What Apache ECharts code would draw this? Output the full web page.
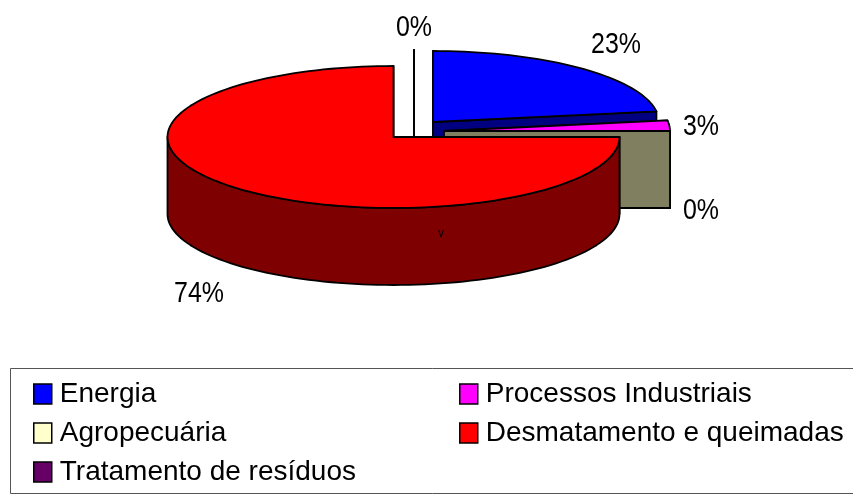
<!DOCTYPE html>
<html>
<head>
<meta charset="utf-8">
<style>html,body{margin:0;padding:0;background:#fff}#chart{width:853px;height:495px}</style>
<script src="https://cdn.jsdelivr.net/npm/echarts@6/dist/echarts.min.js"></script>
</head>
<body>
<div id="chart"></div>
<script>
// shares as swept by each slice in the picture, in drawing order clockwise from 12 o'clock
var categories = ['Energia', 'Processos Industriais', 'Agropecuária', 'Desmatamento e queimadas', 'Tratamento de resíduos'];
var values = [22.6, 2.4, 0, 75, 0];
var labels = ['23%', '3%', '0%', '74%', '0%'];

var topColors = ['#0000ff', '#ff00ff', '#ffffcc', '#ff0000', '#660066'];
var sideColors = ['#000080', '#800080', '#808060', '#7f0000', '#330033'];

// layout of the exploded pie
var rx = 226, ry = 71, depth = 77;
var centers = [[433, 122], [444, 131], [444, 131], [393.5, 137], [414, 121]];
var labelPos = [[616, 45], [701, 127], [701, 211], [199, 294], [414, 28]];
var zOrder = [2, 3, 4, 5, 1];

function rim(c, deg, dy) {
  var a = deg * Math.PI / 180;
  return [c[0] + rx * Math.sin(a), c[1] - ry * Math.cos(a) + (dy || 0)];
}

function sweep(c, from, to, dy) {
  var pts = [];
  var n = Math.max(1, Math.ceil((to - from) / 2));
  for (var i = 0; i <= n; i++) pts.push(rim(c, from + (to - from) * i / n, dy));
  return pts;
}

function face(points, fill) {
  return {
    type: 'polygon',
    shape: { points: points },
    style: { fill: fill, stroke: '#000', lineWidth: 1.8, lineJoin: 'round' }
  };
}

function renderSlice(idx) {
  var c = centers[idx];
  var start = 0;
  for (var i = 0; i < idx; i++) start += values[i] * 3.6;
  var end = start + values[idx] * 3.6;
  var low = [c[0], c[1] + depth];
  var children = [];
  // cut faces
  [end, start].forEach(function (d) {
    children.push(face([c, rim(c, d), rim(c, d, depth), low], sideColors[idx]));
  });
  // outer wall, front half only
  var a = Math.max(start, 90), b = Math.min(end, 270);
  if (b > a) {
    children.push(face(sweep(c, a, b).concat(sweep(c, a, b, depth).reverse()), sideColors[idx]));
  }
  // top
  children.push(face([c].concat(sweep(c, start, end)), topColors[idx]));
  return { type: 'group', children: children };
}

var series = categories.map(function (name, idx) {
  return {
    type: 'custom',
    name: name,
    coordinateSystem: 'none',
    silent: true,
    z: zOrder[idx],
    itemStyle: { color: topColors[idx] },
    data: [[values[idx]]],
    renderItem: function () { return renderSlice(idx); }
  };
});

function legendFor(names, left) {
  return {
    orient: 'vertical',
    left: left,
    top: 380,
    height: 114,
    padding: 0,
    itemGap: 11,
    itemWidth: 18,
    itemHeight: 20,
    selectedMode: false,
    icon: 'rect',
    itemStyle: { borderColor: '#000', borderWidth: 1.5 },
    textStyle: { fontFamily: 'Liberation Sans', fontSize: 28, color: '#000', padding: [0, 0, 0, 3] },
    data: names
  };
}

var chart = echarts.init(document.getElementById('chart'), null, { renderer: 'canvas' });
chart.setOption({
  animation: false,
  backgroundColor: '#fff',
  legend: [
    legendFor([categories[0], categories[2], categories[4]], 33),
    legendFor([categories[1], categories[3]], 459)
  ],
  series: series,
  graphic: [
    {
      type: 'rect', z: 0,
      shape: { x: 10.5, y: 368.5, width: 860, height: 125 },
      style: { fill: '#fff', stroke: '#555', lineWidth: 1 }
    },
    {
      type: 'text', z: 10, x: 441, y: 233, scaleX: 0.86,
      style: { text: 'v', fill: '#000', font: '13px "Liberation Sans"', textAlign: 'center', textVerticalAlign: 'middle' }
    }
  ].concat(labels.map(function (t, i) {
    return {
      type: 'text', z: 10, x: labelPos[i][0], y: labelPos[i][1], scaleX: 0.86,
      style: { text: t, fill: '#000', font: '29px "Liberation Sans"', textAlign: 'center', textVerticalAlign: 'middle' }
    };
  }))
});
</script>
</body>
</html>
